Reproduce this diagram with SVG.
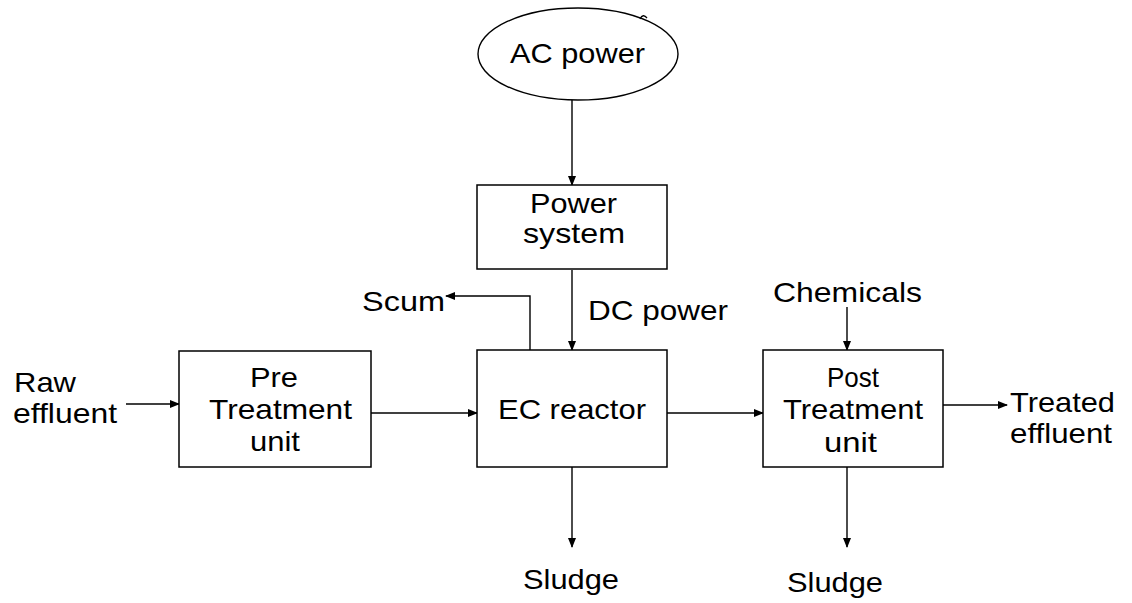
<svg xmlns="http://www.w3.org/2000/svg" width="1132" height="603" viewBox="0 0 1132 603">
<defs>
<marker id="ah" markerWidth="10" markerHeight="8" refX="9" refY="4" orient="auto" markerUnits="userSpaceOnUse">
<path d="M0,0 L10,4 L0,8 Z" fill="#000"/>
</marker>
<style>
text{font-family:"Liberation Sans",Arial,sans-serif;font-size:28px;fill:#000}
.box{fill:#fff;stroke:#000;stroke-width:1.5}
.c{fill:none;stroke:#000;stroke-width:1.4;marker-end:url(#ah)}
</style>
</defs>
<rect width="1132" height="603" fill="#fff"/>
<g id="connectors">
<path class="c" d="M572,99 V185"/>
<path class="c" d="M572,270 V350"/>
<path class="c" d="M530,350 V296 H446"/>
<path class="c" d="M126,404 H179"/>
<path class="c" d="M371,413 H477"/>
<path class="c" d="M667,413 H763"/>
<path class="c" d="M847,307 V350"/>
<path class="c" d="M943,405 H1007"/>
<path class="c" d="M572,467 V547"/>
<path class="c" d="M847,467 V547"/>
</g>
<g id="ac-power">
<ellipse cx="578" cy="54" rx="100" ry="46" fill="#fff" stroke="#000" stroke-width="1.4"/>
<path d="M640,19 Q643,13 647,18" fill="none" stroke="#000" stroke-width="1.3"/>
<text x="510" y="63" textLength="135" lengthAdjust="spacingAndGlyphs">AC power</text>
</g>
<g id="power-system">
<rect class="box" x="477" y="185" width="190" height="84"/>
<text x="530" y="213" textLength="87" lengthAdjust="spacingAndGlyphs">Power</text>
<text x="523" y="243" textLength="102" lengthAdjust="spacingAndGlyphs">system</text>
</g>
<g id="pre-treatment">
<rect class="box" x="179" y="351" width="192" height="116"/>
<text x="250" y="387" textLength="48" lengthAdjust="spacingAndGlyphs">Pre</text>
<text x="209" y="419" textLength="143" lengthAdjust="spacingAndGlyphs">Treatment</text>
<text x="250" y="451" textLength="50" lengthAdjust="spacingAndGlyphs">unit</text>
</g>
<g id="ec-reactor">
<rect class="box" x="477" y="350" width="190" height="117"/>
<text x="498" y="419" textLength="148" lengthAdjust="spacingAndGlyphs">EC reactor</text>
</g>
<g id="post-treatment">
<rect class="box" x="763" y="350" width="180" height="117"/>
<text x="827" y="387" textLength="52" lengthAdjust="spacingAndGlyphs">Post</text>
<text x="783" y="419" textLength="140" lengthAdjust="spacingAndGlyphs">Treatment</text>
<text x="824" y="452" textLength="53" lengthAdjust="spacingAndGlyphs">unit</text>
</g>
<g id="labels">
<text x="362" y="311" textLength="83" lengthAdjust="spacingAndGlyphs">Scum</text>
<text x="588" y="320" textLength="140" lengthAdjust="spacingAndGlyphs">DC power</text>
<text x="773" y="302" textLength="149" lengthAdjust="spacingAndGlyphs">Chemicals</text>
<text x="14" y="392" textLength="62" lengthAdjust="spacingAndGlyphs">Raw</text>
<text x="13" y="423" textLength="104" lengthAdjust="spacingAndGlyphs">effluent</text>
<text x="1010" y="412" textLength="105" lengthAdjust="spacingAndGlyphs">Treated</text>
<text x="1010" y="443" textLength="102" lengthAdjust="spacingAndGlyphs">effluent</text>
<text x="523" y="589" textLength="96" lengthAdjust="spacingAndGlyphs">Sludge</text>
<text x="787" y="592" textLength="96" lengthAdjust="spacingAndGlyphs">Sludge</text>
</g>
</svg>
